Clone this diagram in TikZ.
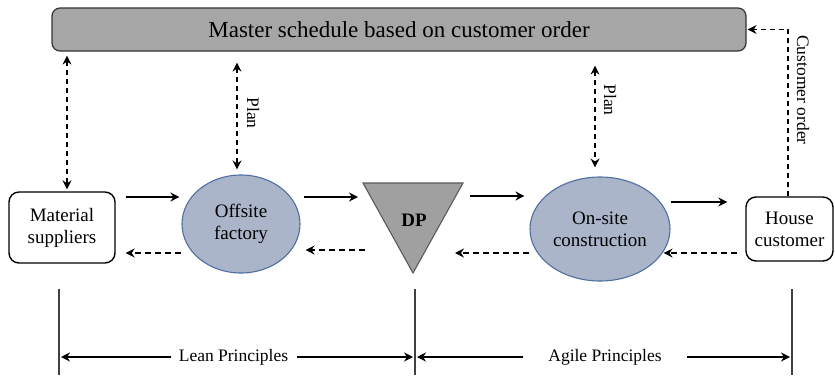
\documentclass[tikz,border=0pt]{standalone}
\usepackage{fontspec}
\setmainfont{Liberation Serif}
\usetikzlibrary{arrows.meta,shapes.geometric,calc}
\definecolor{ellfill}{HTML}{AAB5C9}
\definecolor{ellline}{HTML}{4F6FA0}
\definecolor{boxgray}{HTML}{A6A6A6}
\definecolor{trigray}{HTML}{A0A0A0}
\begin{document}
\begin{tikzpicture}[x=1pt,y=-1pt,
  flow/.style={-{Stealth[length=9pt,width=9pt,inset=3pt]}, line width=1.4pt},
  thickflow/.style={flow, line width=2pt},
  back/.style={flow, line width=1.3pt, dash pattern=on 6pt off 4pt},
  link/.style={{Stealth[length=9pt,width=9pt,inset=3pt]}-{Stealth[length=9pt,width=9pt,inset=3pt]},
    line width=1.2pt, dash pattern=on 5pt off 4pt},
  span/.style={-{Stealth[length=9pt,width=9pt,inset=3pt]}, line width=1.2pt},
  marker/.style={line width=1.3pt, draw=black!75},
  master/.style={draw=black!80, line width=1.2pt, fill=boxgray, rounded corners=8pt,
    minimum width=694pt, minimum height=43pt, inner sep=0pt, font=\fontsize{23}{26}\selectfont},
  party/.style={draw, line width=1.4pt, rounded corners=10pt, align=center, inner sep=0pt,
    font=\fontsize{19}{22}\selectfont},
  stage/.style={ellipse, draw=ellline, line width=1.1pt, fill=ellfill, align=center, inner sep=0pt,
    font=\fontsize{19}{22}\selectfont},
  dpshape/.style={draw=black!65, line width=1.1pt, fill=trigray},
  lbl/.style={font=\fontsize{17.5}{20}\selectfont, inner sep=0pt},
]
\useasboundingbox (0,0) rectangle (835,375);

% master schedule
\node[master] (ms) at (399,29.5) {Master schedule based on customer order};

% parties and stages
\node[party, minimum width=106pt, minimum height=71pt] (mat) at (62,227.5) {Material\\suppliers};
\node[stage, minimum width=118pt, minimum height=98pt] (of) at (241,224) {Offsite\\factory};
\node[stage, minimum width=140pt, minimum height=104pt] (on) at (600,229) {On-site\\construction};
\node[party, minimum width=87pt, minimum height=64pt] (hc) at (789.5,229) {House\\customer};

% decoupling point
\coordinate (dpA) at (363,183);
\coordinate (dpB) at (463,183);
\coordinate (dpC) at (413,273);
\draw[dpshape] (dpA) -- (dpB) -- (dpC) -- cycle;
\node[font=\fontsize{19}{22}\selectfont\bfseries, inner sep=0pt] (dp) at (414,220) {DP};

% rows of the material flow
\coordinate (rowA) at (0,197);
\coordinate (rowB) at (0,202);
\coordinate (rowC) at (0,253);
\coordinate (rowD) at (0,250);

% forward flow
\draw[flow] ($(mat.east|-rowA)+(10,0)$) -- ($(of.west|-rowA)+(-2,0)$);
\draw[flow] ($(of.east|-rowA)+(3,0)$) -- ($(dpA)+(-5,14)$);
\draw[flow] ($(dpB)+(7,13)$) -- ($(on.west|-rowA)+(-5,-1)$);
\draw[thickflow] (on.east|-rowB) -- ($(hc.west|-rowB)+(-18,0)$);

% backward information flow
\draw[back] ($(hc.west|-rowC)+(-8,0)$) -- ($(on.east|-rowC)+(-7,0)$);
\draw[back] (on.west|-rowC) -- ($(dpB)+(-8,70)$);
\draw[back] ($(dpA)+(2,67)$) -- ($(of.east|-rowD)+(5,0)$);
\draw[back] (of.west|-rowC) -- ($(mat.east|-rowC)+(10,0)$);

% planning links
\draw[link] ($(ms.south-|mat.north)+(5,4)$) -- ($(mat.north)+(5,-2)$);
\draw[link] ($(ms.south-|of.north)+(-4,11)$) -- ($(of.north)+(-4,-5)$);
\draw[link] ($(ms.south-|on.north)+(-5,14)$) -- ($(on.north)+(-5,-9)$);
\draw[back, line width=1.2pt, dash pattern=on 5pt off 4pt] ($(hc.north)+(-1.5,0)$) |- ($(ms.east)+(1,0)$);

\node[lbl, rotate=-90] (plan1) at (253,113) {Plan};
\node[lbl, rotate=-90] (plan2) at (610,100) {Plan};
\node[lbl, rotate=-90] (cord) at (803,90) {Customer order};

% principle spans
\coordinate (v1t) at (59,289);  \coordinate (v1b) at (59,375);
\coordinate (v2t) at (415,289); \coordinate (v2b) at (415,375);
\coordinate (v3t) at (792,289); \coordinate (v3b) at (792,375);
\draw[marker] (v1t) -- (v1b);
\draw[marker] (v2t) -- (v2b);
\draw[marker] (v3t) -- (v3b);

\node[lbl] (lean) at (233.5,357) {Lean Principles};
\node[lbl] (agile) at (605,357) {Agile Principles};
\draw[span] ($(lean.west)+(-8,0)$) -- ($(v1t|-lean)+(2,0)$);
\draw[span] ($(lean.east)+(9,0)$) -- ($(v2t|-lean)+(-2,0)$);
\draw[span] ($(agile.west)+(-25,0)$) -- ($(v2t|-agile)+(2,0)$);
\draw[span] ($(agile.east)+(25,0)$) -- ($(v3t|-agile)+(-2,0)$);
\end{tikzpicture}
\end{document}
